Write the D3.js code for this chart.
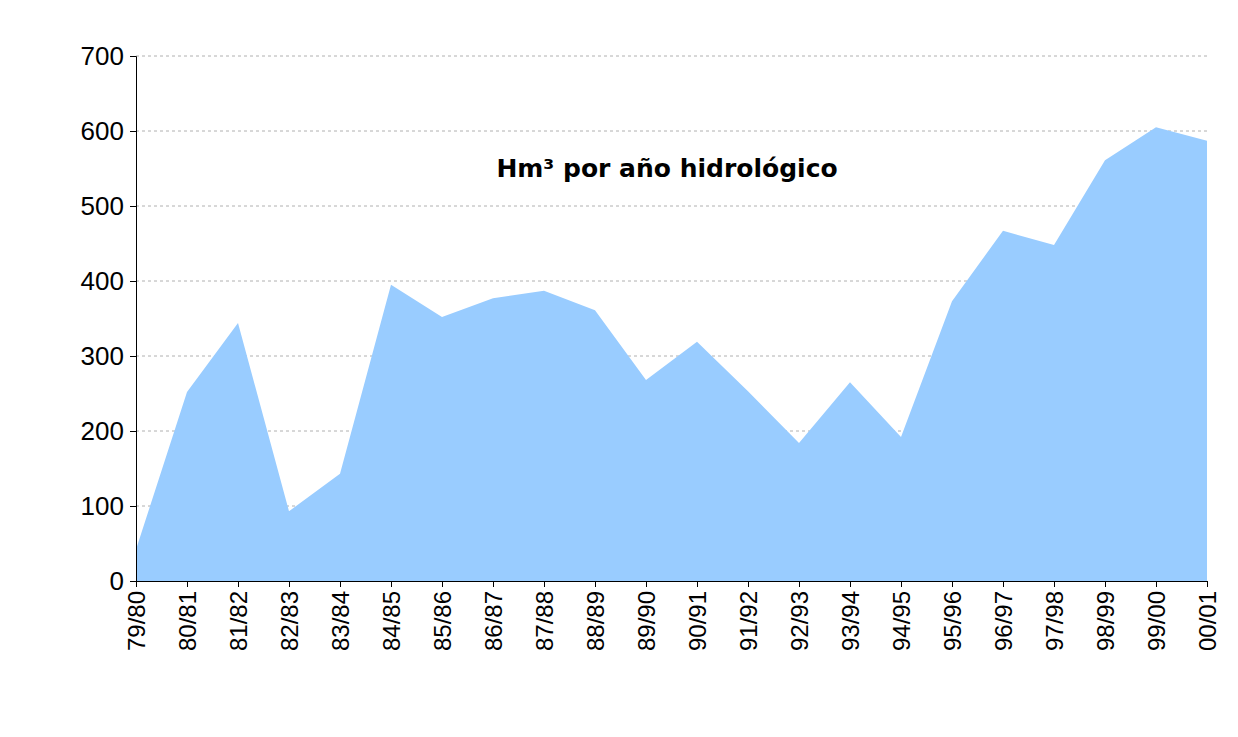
<!DOCTYPE html>
<html><head><meta charset="utf-8">
<script src="https://cdn.jsdelivr.net/npm/d3@7"></script>
<style>body{margin:0;background:#fff}svg{font-family:"DejaVu Sans",Verdana,sans-serif}</style>
</head><body>
<svg id="chart" width="1238" height="737"></svg>
<script>
var years = ["79/80","80/81","81/82","82/83","83/84","84/85","85/86","86/87","87/88","88/89","89/90",
  "90/91","91/92","92/93","93/94","94/95","95/96","96/97","97/98","98/99","99/00","00/01"];
var volumes = [42,252,344,93,143,395,352,377,387,361,268,319,253,184,265,192,373,467,448,561,605,587];
var yTicks = [0,100,200,300,400,500,600,700];

var svg = d3.select("#chart");
var x = d3.scalePoint().domain(years).range([136, 1207]);
var y = d3.scaleLinear().domain([0, 700]).range([581, 56]);

// grid
svg.selectAll("line.grid").data(yTicks.slice(1)).enter().append("line")
  .attr("x1", 136).attr("x2", 1207)
  .attr("y1", function(d){ return y(d); }).attr("y2", function(d){ return y(d); })
  .attr("stroke", "#b0b0b0").attr("stroke-dasharray", "3,3");

var area = d3.area()
  .x(function(d, i){ return x(years[i]); })
  .y0(y(0)).y1(function(d){ return y(d); });
svg.append("path").datum(volumes).attr("d", area).attr("fill", "#99ccff");

var yAxis = svg.append("g").attr("transform", "translate(136,0)")
  .call(d3.axisLeft(y).tickValues(yTicks).tickSize(6).tickPadding(6));
yAxis.selectAll("text").attr("font-size", 26).attr("fill", "#000");
yAxis.select(".domain").attr("stroke", "#000");

var xAxis = svg.append("g").attr("transform", "translate(0,581)")
  .call(d3.axisBottom(x).tickSize(6).tickSizeOuter(0));
xAxis.select(".domain").attr("stroke", "#000");
xAxis.selectAll("text")
  .attr("font-size", 24).attr("fill", "#000")
  .attr("transform", "rotate(-90)")
  .attr("text-anchor", "end").attr("x", -10).attr("y", 0).attr("dy", "0.35em");

svg.append("text").attr("x", 667).attr("y", 177).attr("text-anchor", "middle")
  .attr("font-size", 25).attr("font-weight", "bold").text("Hm³ por año hidrológico");
</script>
</body></html>
